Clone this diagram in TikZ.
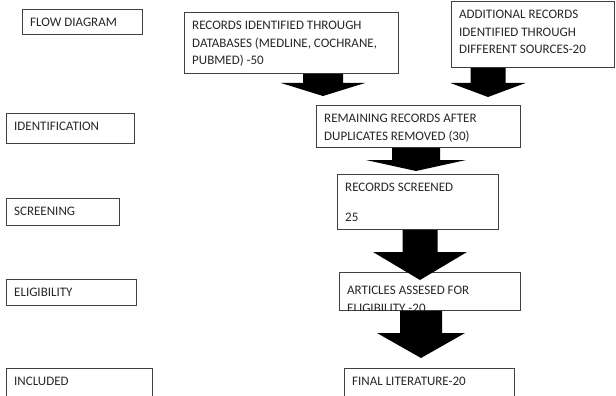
\documentclass[tikz,border=0pt]{standalone}
\usepackage{fontspec}
\setmainfont{Carlito}
\usetikzlibrary{calc}

\tikzset{
  box/.style={rectangle,draw=black!75,line width=0.8pt,anchor=north west,inner sep=0pt},
  lbl/.style={anchor=north west,align=left,inner xsep=8pt,inner ysep=9pt,font=\fontsize{13}{17.5}\selectfont,text=black!85},
  blockarrow/.style n args={3}{fill=black,to path={let \p1=(\tikztostart),\p2=(\tikztotarget) in
    (\x1-#1,\y1) -- (\x1+#1,\y1) -- (\x1+#1,\y2+#3) -- (\x1+#2,\y2+#3) -- (\x2,\y2)
    -- (\x1-#2,\y2+#3) -- (\x1-#1,\y2+#3) -- cycle}}
}

\begin{document}
\begin{tikzpicture}[x=1pt,y=-1pt]
\useasboundingbox (0,0) rectangle (616,396);
\clip (0,0) rectangle (616,396);

% stages on the left
\node[box,minimum width=120pt,minimum height=25pt,label={[lbl]north west:FLOW DIAGRAM}] (flow) at (22,9) {};
\node[box,minimum width=128pt,minimum height=30pt,label={[lbl]north west:IDENTIFICATION}] (ident) at (6,113) {};
\node[box,minimum width=113pt,minimum height=27pt,label={[lbl]north west:SCREENING}] (screen) at (6,198) {};
\node[box,minimum width=130pt,minimum height=26pt,label={[lbl]north west:ELIGIBILITY}] (elig) at (6,279) {};
\node[box,minimum width=146pt,minimum height=40pt,label={[lbl]north west:INCLUDED}] (incl) at (6,368) {};

% records
\node[box,minimum width=214pt,minimum height=61pt,label={[lbl]north west:{RECORDS IDENTIFIED THROUGH\\DATABASES (MEDLINE, COCHRANE,\\PUBMED) -50}}] (rec) at (184,12) {};
\node[box,minimum width=163pt,minimum height=66pt,label={[lbl]north west:{ADDITIONAL RECORDS\\IDENTIFIED THROUGH\\DIFFERENT SOURCES-20}}] (add) at (451,1) {};
\node[box,minimum width=204pt,minimum height=42pt,label={[lbl]north west:{REMAINING RECORDS AFTER\\DUPLICATES REMOVED (30)}}] (remain) at (316,105) {};
\node[box,minimum width=161pt,minimum height=55pt,label={[lbl]north west:{RECORDS SCREENED\\[12pt]25}}] (scr) at (337,174) {};
\begin{scope}
\clip (330,260) rectangle (530,310.4);
\node[box,minimum width=181pt,minimum height=38pt,label={[lbl,inner ysep=14pt]north west:{ARTICLES ASSESED FOR\\ELIGIBILITY -20}}] (art) at (339,272) {};
\end{scope}
\node[box,minimum width=170pt,minimum height=40pt,label={[lbl]north west:FINAL LITERATURE-20}] (final) at (344,368) {};

% block arrows
\coordinate (a1) at (323,96);
\coordinate (a2) at (488,97);
\coordinate (a3) at (416,171);
\coordinate (a4) at (420,280);
\coordinate (a5) at (421,358);
\path[blockarrow={20pt}{42pt}{13pt}] (rec.south -| a1) to (a1);
\path[blockarrow={17.5pt}{37.5pt}{14pt}] (add.south -| a2) to (a2);
\path[blockarrow={24pt}{50pt}{11pt}] (remain.south -| a3) to (a3);
\path[blockarrow={17.5pt}{47pt}{28pt}] (scr.south -| a4) to (a4);
\path[blockarrow={21pt}{44pt}{25pt}] (art.south -| a5) to (a5);
\end{tikzpicture}
\end{document}
